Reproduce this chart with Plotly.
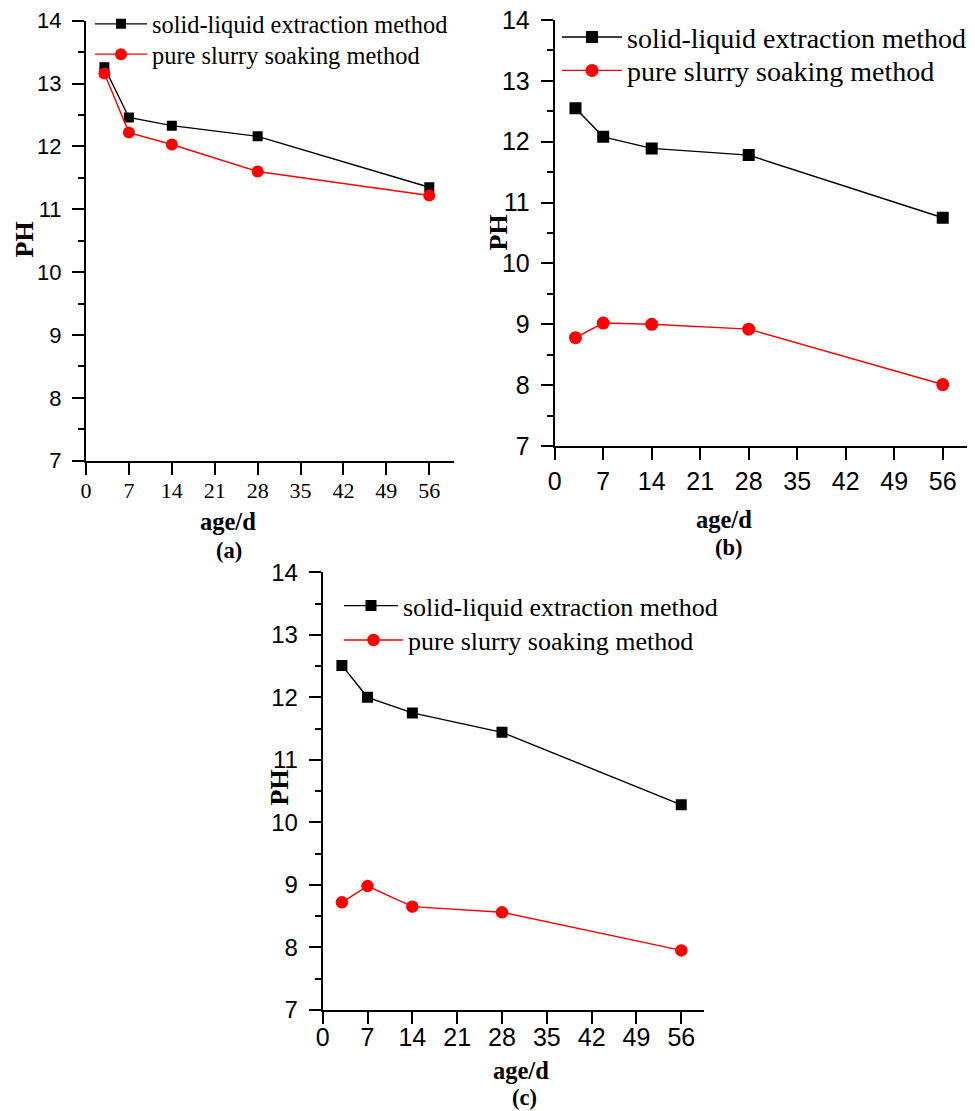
import plotly.graph_objects as go

# ---------------- data ----------------
age_days = [3, 7, 14, 28, 56]
x_tick_vals = [0, 7, 14, 21, 28, 35, 42, 49, 56]
x_tick_text = ["0", "7", "14", "21", "28", "35", "42", "49", "56"]
y_tick_vals = [7, 8, 9, 10, 11, 12, 13, 14]
y_tick_text = ["7", "8", "9", "10", "11", "12", "13", "14"]

series_names = ["solid-liquid extraction method", "pure slurry soaking method"]

a_solid_liquid = [13.26, 12.46, 12.33, 12.16, 11.35]
a_pure_slurry = [13.16, 12.22, 12.03, 11.60, 11.22]
b_solid_liquid = [12.55, 12.08, 11.89, 11.78, 10.75]
b_pure_slurry = [8.78, 9.02, 9.00, 8.92, 8.01]
c_solid_liquid = [12.51, 12.00, 11.75, 11.44, 10.28]
c_pure_slurry = [8.72, 8.98, 8.65, 8.56, 7.95]

captions = ["(a)", "(b)", "(c)"]

# ---------------- layout helpers ----------------
W, H = 975, 1111
SERIF = "Liberation Serif, Times New Roman, serif"
SANS = "Liberation Sans, Arial, sans-serif"


def px_x(v):
    return v / W


def px_y(v):
    return 1 - v / H


panels = [
    dict(key="", sl=a_solid_liquid, ps=a_pure_slurry,
         xdom=[px_x(86), px_x(453.8)], ydom=[px_y(460.7), px_y(20.7)], xmax=60,
         xfont=dict(family=SERIF, size=22, color="black"), xstand=-3,
         yfont=dict(family=SANS, size=22, color="black"),
         msq=10, mci=12, lfont=24.4,
         leg_sl=dict(x=90, y=24, w=52), leg_ps=dict(x=90, y=54.3, w=52),
         ph=(23.5, 240), age=(228, 521.5), cap=(229, 550)),
    dict(key="2", sl=b_solid_liquid, ps=b_pure_slurry,
         xdom=[px_x(554.7), px_x(967)], ydom=[px_y(446), px_y(20)], xmax=59.5,
         xfont=dict(family=SANS, size=25, color="black"), xstand=0,
         yfont=dict(family=SANS, size=25, color="black"),
         msq=12, mci=13, lfont=28,
         leg_sl=dict(x=557, y=37.3, w=60), leg_ps=dict(x=557, y=70.7, w=60),
         ph=(497.5, 232), age=(724, 519), cap=(729, 548)),
    dict(key="3", sl=c_solid_liquid, ps=c_pure_slurry,
         xdom=[px_x(322.7), px_x(703.7)], ydom=[px_y(1009.8), px_y(572.3)], xmax=59.5,
         xfont=dict(family=SANS, size=25, color="black"), xstand=-8,
         yfont=dict(family=SANS, size=24, color="black"),
         msq=11, mci=12.5, lfont=26,
         leg_sl=dict(x=339, y=605.7, w=54), leg_ps=dict(x=339, y=640.1, w=59),
         ph=(278.5, 788), age=(521, 1070.5), cap=(524, 1097.5)),
]

fig = go.Figure()
layout_updates = {}
annotations = []
legend_counter = 0


def next_legend_name():
    global legend_counter
    legend_counter += 1
    return "legend" if legend_counter == 1 else "legend%d" % legend_counter


for i, p in enumerate(panels):
    k = p["key"]
    xa = "x" + k
    ya = "y" + k
    lg_sl = next_legend_name()
    lg_ps = next_legend_name()
    fig.add_trace(go.Scatter(
        x=age_days, y=p["sl"], name=series_names[0], xaxis=xa, yaxis=ya,
        mode="lines+markers", legend=lg_sl,
        line=dict(color="black", width=1.4),
        marker=dict(symbol="square", size=p["msq"], color="black"),
    ))
    fig.add_trace(go.Scatter(
        x=age_days, y=p["ps"], name=series_names[1], xaxis=xa, yaxis=ya,
        mode="lines+markers", legend=lg_ps,
        line=dict(color="red", width=1.4),
        marker=dict(symbol="circle", size=p["mci"], color="red"),
    ))
    layout_updates["xaxis" + k] = dict(
        domain=p["xdom"], range=[0, p["xmax"]], anchor=ya,
        tickmode="array", tickvals=x_tick_vals, ticktext=x_tick_text,
        ticks="outside", ticklen=12, tickwidth=2, tickcolor="black",
        showline=True, linewidth=2, linecolor="black",
        showgrid=False, zeroline=False, tickfont=p["xfont"],
        ticklabelstandoff=p["xstand"], fixedrange=True, automargin=False,
    )
    layout_updates["yaxis" + k] = dict(
        domain=p["ydom"], range=[7, 14], anchor=xa,
        tickmode="array", tickvals=y_tick_vals, ticktext=y_tick_text,
        ticks="outside", ticklen=12, tickwidth=2, tickcolor="black",
        minor=dict(dtick=0.5, tick0=7, ticks="outside", ticklen=6,
                   tickwidth=2, tickcolor="black", showgrid=False),
        showline=True, linewidth=2, linecolor="black",
        showgrid=False, zeroline=False, tickfont=p["yfont"],
        ticklabelstandoff=6, fixedrange=True, automargin=False,
    )
    for lg, spec in ((lg_sl, p["leg_sl"]), (lg_ps, p["leg_ps"])):
        layout_updates[lg] = dict(
            x=px_x(spec["x"]), y=px_y(spec["y"]), xanchor="left", yanchor="middle",
            xref="paper", yref="paper",
            bgcolor="rgba(0,0,0,0)", borderwidth=0, itemwidth=spec["w"],
            font=dict(family=SERIF, size=p["lfont"], color="black"),
            tracegroupgap=0,
        )
    annotations.append(dict(
        text="<b>PH</b>", x=px_x(p["ph"][0]), y=px_y(p["ph"][1]),
        xref="paper", yref="paper", showarrow=False, textangle=-90,
        font=dict(family=SERIF, size=26, color="black"),
        xanchor="center", yanchor="middle",
    ))
    annotations.append(dict(
        text="<b>age/d</b>", x=px_x(p["age"][0]), y=px_y(p["age"][1]),
        xref="paper", yref="paper", showarrow=False,
        font=dict(family=SERIF, size=24.5, color="black"),
        xanchor="center", yanchor="middle",
    ))
    annotations.append(dict(
        text="<b>" + captions[i] + "</b>", x=px_x(p["cap"][0]), y=px_y(p["cap"][1]),
        xref="paper", yref="paper", showarrow=False,
        font=dict(family=SERIF, size=22.5, color="black"),
        xanchor="center", yanchor="middle",
    ))

fig.update_layout(**layout_updates)
fig.update_layout(
    width=W, height=H,
    margin=dict(l=0, r=0, t=0, b=0, autoexpand=False),
    paper_bgcolor="white", plot_bgcolor="white",
    showlegend=True,
    annotations=annotations,
)

fig.write_html(
    "out.html",
    config={"displayModeBar": False},
    post_script=(
        "document.body.style.margin='0px';"
        "document.body.style.padding='0px';"
        "document.body.style.overflow='hidden';"
    ),
)
